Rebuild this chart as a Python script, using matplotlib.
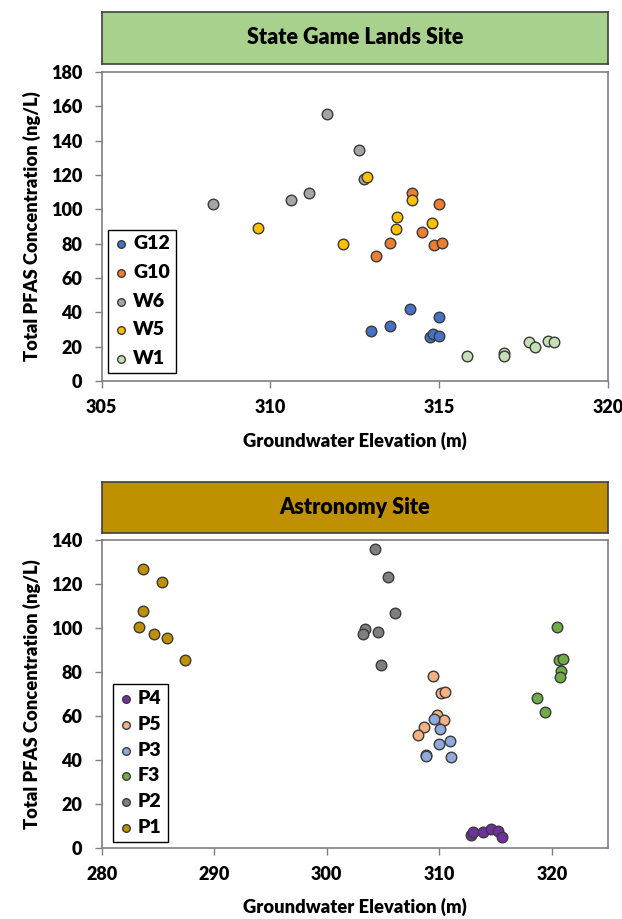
import matplotlib.pyplot as plt
import numpy as np

plt.rcParams["font.family"] = ["Lato", "DejaVu Sans"]
plt.rcParams["font.weight"] = "bold"

# ── State Game Lands Site ──
g12_x = [314.13, 314.98, 313.54, 312.98, 314.74, 314.82, 314.98]
g12_y = [41.7, 37.5, 32.0, 28.9, 25.8, 27.4, 26.2]
g10_x = [314.2, 315.0, 314.5, 313.54, 314.84, 315.07, 313.12]
g10_y = [109.3, 102.9, 86.8, 80.5, 79.0, 80.5, 73.0]
w6_x = [308.3, 310.62, 311.15, 311.67, 312.63, 312.77]
w6_y = [103.3, 105.4, 109.7, 155.5, 134.4, 117.6]
w5_x = [309.62, 312.14, 312.87, 314.2, 313.74, 313.72, 314.79]
w5_y = [88.9, 79.6, 118.8, 105.4, 95.5, 88.3, 92.2]
w1_x = [315.81, 316.91, 316.91, 317.67, 317.85, 318.21, 318.41]
w1_y = [14.6, 16.5, 14.6, 22.5, 20.0, 23.5, 22.9]

# ── Astronomy Site ──
p4_x = [312.8, 313.0, 313.9, 314.63, 315.2, 315.55]
p4_y = [6.1, 7.1, 7.1, 8.5, 7.6, 5.1]
p5_x = [309.46, 310.13, 310.52, 309.78, 310.43, 308.66, 308.07]
p5_y = [78.3, 70.4, 70.8, 60.3, 58.2, 55.0, 51.2]
p3_x = [309.55, 310.1, 311.0, 310.02, 308.8, 308.86, 311.08]
p3_y = [58.8, 54.1, 48.5, 47.1, 42.3, 41.7, 41.4]
f3_x = [320.46, 320.64, 321.0, 320.8, 320.7, 318.69, 319.42]
f3_y = [100.6, 85.5, 85.8, 80.5, 77.9, 68.3, 62.0]
p2_x = [304.25, 305.47, 306.11, 303.36, 303.18, 304.52, 304.81]
p2_y = [135.9, 123.0, 106.8, 99.5, 97.4, 98.2, 83.2]
p1_x = [283.64, 285.35, 283.64, 283.31, 284.61, 285.82, 287.39]
p1_y = [126.8, 121.1, 107.7, 100.3, 97.4, 95.3, 85.3]

top_series = [("G12", g12_x, g12_y, "#4472C4"),
              ("G10", g10_x, g10_y, "#ED7D31"),
              ("W6", w6_x, w6_y, "#A5A5A5"),
              ("W5", w5_x, w5_y, "#FFC000"),
              ("W1", w1_x, w1_y, "#C5E0B4")]
bot_series = [("P4", p4_x, p4_y, "#7030A0"),
              ("P5", p5_x, p5_y, "#F4B183"),
              ("P3", p3_x, p3_y, "#8FAADC"),
              ("F3", f3_x, f3_y, "#70AD47"),
              ("P2", p2_x, p2_y, "#7F7F7F"),
              ("P1", p1_x, p1_y, "#BF9000")]

fig = plt.figure(figsize=(6.22, 9.19), dpi=100)


def title_box(bottom, height, text, color):
    bx = fig.add_axes([0.1635, bottom, 0.814, height])
    bx.set_facecolor(color)
    bx.set_xticks([]); bx.set_yticks([])
    for s in bx.spines.values():
        s.set_color("#404040"); s.set_linewidth(1.2)
    bx.text(0.5, 0.5, text, ha="center", va="center", fontsize=15.5,
            fontweight="heavy", transform=bx.transAxes)


def panel(rect, series, xlim, xticks, ylim, yticks, leg_anchor, lspace):
    ax = fig.add_axes(rect)
    for name, xs, ys, col in series:
        ax.scatter(xs, ys, s=58, color=col, edgecolors="#3a3a3a",
                   linewidths=1.0, label=name, zorder=3)
    ax.set_xlim(xlim); ax.set_ylim(ylim)
    ax.set_xticks(xticks); ax.set_yticks(yticks)
    ax.tick_params(direction="out", length=5, width=1, color="#7f7f7f",
                   labelsize=13)
    ax.tick_params(axis="y", pad=9)
    ax.tick_params(axis="x", pad=8)
    for s in ax.spines.values():
        s.set_color("#7f7f7f"); s.set_linewidth(1.2)
    for lab in ax.get_xticklabels() + ax.get_yticklabels():
        lab.set_fontweight("heavy")
    ax.set_xlabel("Groundwater Elevation (m)", fontsize=13.2,
                  fontweight="heavy", labelpad=11)
    ax.set_ylabel("Total PFAS Concentration (ng/L)", fontsize=13.2,
                  fontweight="heavy", labelpad=7)
    leg = ax.legend(loc="lower left", bbox_to_anchor=leg_anchor,
                    borderaxespad=0, fancybox=False, framealpha=1,
                    edgecolor="black", handletextpad=0.2, handlelength=0.8,
                    labelspacing=lspace, borderpad=0.3, markerscale=0.72,
                    prop={"size": 14, "weight": "heavy"})
    leg.get_frame().set_linewidth(1.0)
    return ax


title_box(0.9304, 0.0566, "State Game Lands Site", "#A9D18E")
panel([0.1635, 0.5854, 0.814, 0.3362], top_series, (305, 320),
      np.arange(305, 321, 5), (0, 180), np.arange(0, 181, 20),
      (0.012, 0.026), 0.6)

title_box(0.42, 0.0555, "Astronomy Site", "#BF9000")
panel([0.1635, 0.0773, 0.814, 0.3351], bot_series, (280, 325),
      np.arange(280, 321, 10), (0, 140), np.arange(0, 141, 20),
      (0.022, 0.02), 0.45)

plt.savefig("out.png", dpi=100)
